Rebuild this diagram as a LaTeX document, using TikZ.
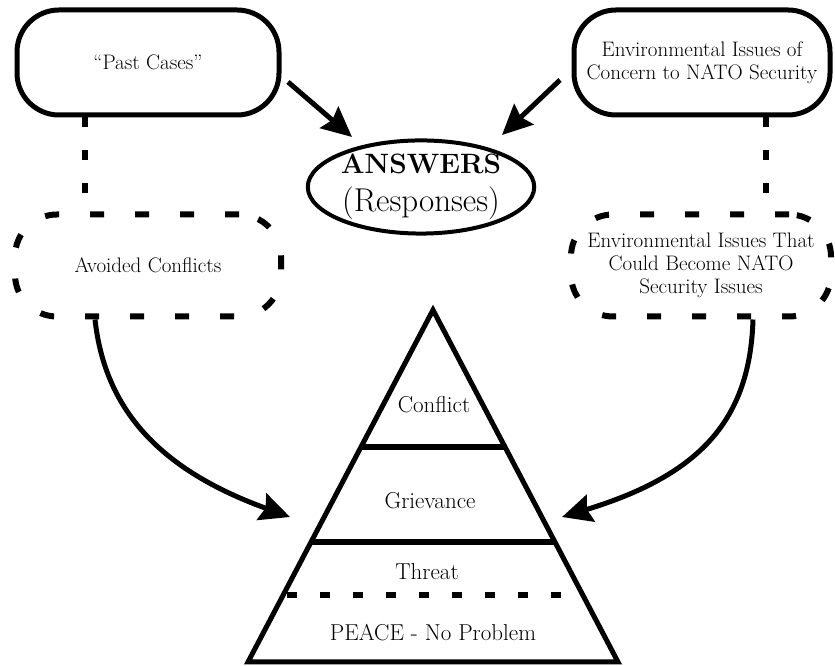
\documentclass[tikz,border=0pt]{standalone}
\usetikzlibrary{shapes.geometric,arrows.meta,calc}
\newcommand\mainfs{\fontsize{21}{23}\selectfont}
\newcommand\pyrfs{\fontsize{23}{26}\selectfont}
\begin{document}
\begin{tikzpicture}[x=1pt,y=1pt]
\useasboundingbox (0,0) rectangle (835,666);
\tikzset{
 solidbox/.style={draw, line width=5pt, rounded corners=42pt, minimum width=262pt, minimum height=105pt, inner sep=0pt, align=center, font=\mainfs},
 dashbox/.style={draw, line width=6pt, dash pattern=on 14pt off 31pt, rounded corners=42pt, minimum width=266pt, minimum height=102pt, inner sep=0pt, align=center, font=\mainfs},
 conn/.style={line width=6pt, dash pattern=on 10pt off 23pt},
 arr/.style={line width=5pt, -{Stealth[length=30pt,width=28pt,inset=4pt]}},
 lvl/.style={font=\pyrfs},
 level/.style={line width=6pt}
}
% top boxes
\node[solidbox] (pc) at (148,603.5) {``Past Cases''};
\node[solidbox, minimum width=256pt] (env) at (702,603.5) {Environmental Issues of\\Concern to NATO Security};
% answers
\node[ellipse, draw, line width=4pt, minimum width=194pt, minimum height=86pt, inner sep=0pt, align=center, font=\fontsize{29}{38}\selectfont] (ans) at (421,479)
  {{\fontsize{28}{38}\selectfont\bfseries ANSWERS}\\{\fontsize{33}{38}\selectfont (Responses)}};
% dashed ovals
\node[dashbox] (ac) at (148,400.5) {Avoided Conflicts};
\node[dashbox, minimum width=260pt] (ec) at (701,400.5) {Environmental Issues That\\Could Become NATO\\Security Issues};
% vertical dashed connectors
\draw[conn] ([xshift=-63pt]pc.south) -- ([xshift=-63pt]ac.north);
\draw[conn] ([xshift=64pt]env.south) -- ([xshift=65pt]ec.north);
% straight arrows
\coordinate (a1s) at (288,584);
\coordinate (a1e) at (352,529);
\coordinate (a2s) at (560,586);
\coordinate (a2e) at (502,531);
\draw[arr] (a1s) -- (a1e);
\draw[arr] (a2s) -- (a2e);
% pyramid
\coordinate (apex) at (433,356);
\coordinate (bl) at (248,4);
\coordinate (br) at (618,4);
\draw[line width=5pt, line join=miter] (apex) -- (bl) -- (br) -- cycle;
\draw[level] ($(apex)!0.389!(bl)$) -- ($(apex)!0.389!(br)$);
\draw[level] ($(apex)!0.659!(bl)$) -- ($(apex)!0.659!(br)$);
\draw[conn, shorten <=4pt] ($(apex)!0.81!(bl)$) -- ($(apex)!0.81!(br)$);
\node[lvl] (l1) at (434,261) {Conflict};
\node[lvl] (l2) at (430,165) {Grievance};
\node[lvl] (l3) at (427,94) {Threat};
\node[lvl] (l4) at (433,33) {PEACE - No Problem};
% curved arrows
\coordinate (pl) at (290,149);
\coordinate (pr) at (562,149);
\draw[arr] ([xshift=-53pt]ac.south) .. controls (105,256) and (160,196) .. (pl);
\draw[arr] ([xshift=52pt]ec.south) .. controls (750,246) and (700,191) .. (pr);
\end{tikzpicture}
\end{document}
